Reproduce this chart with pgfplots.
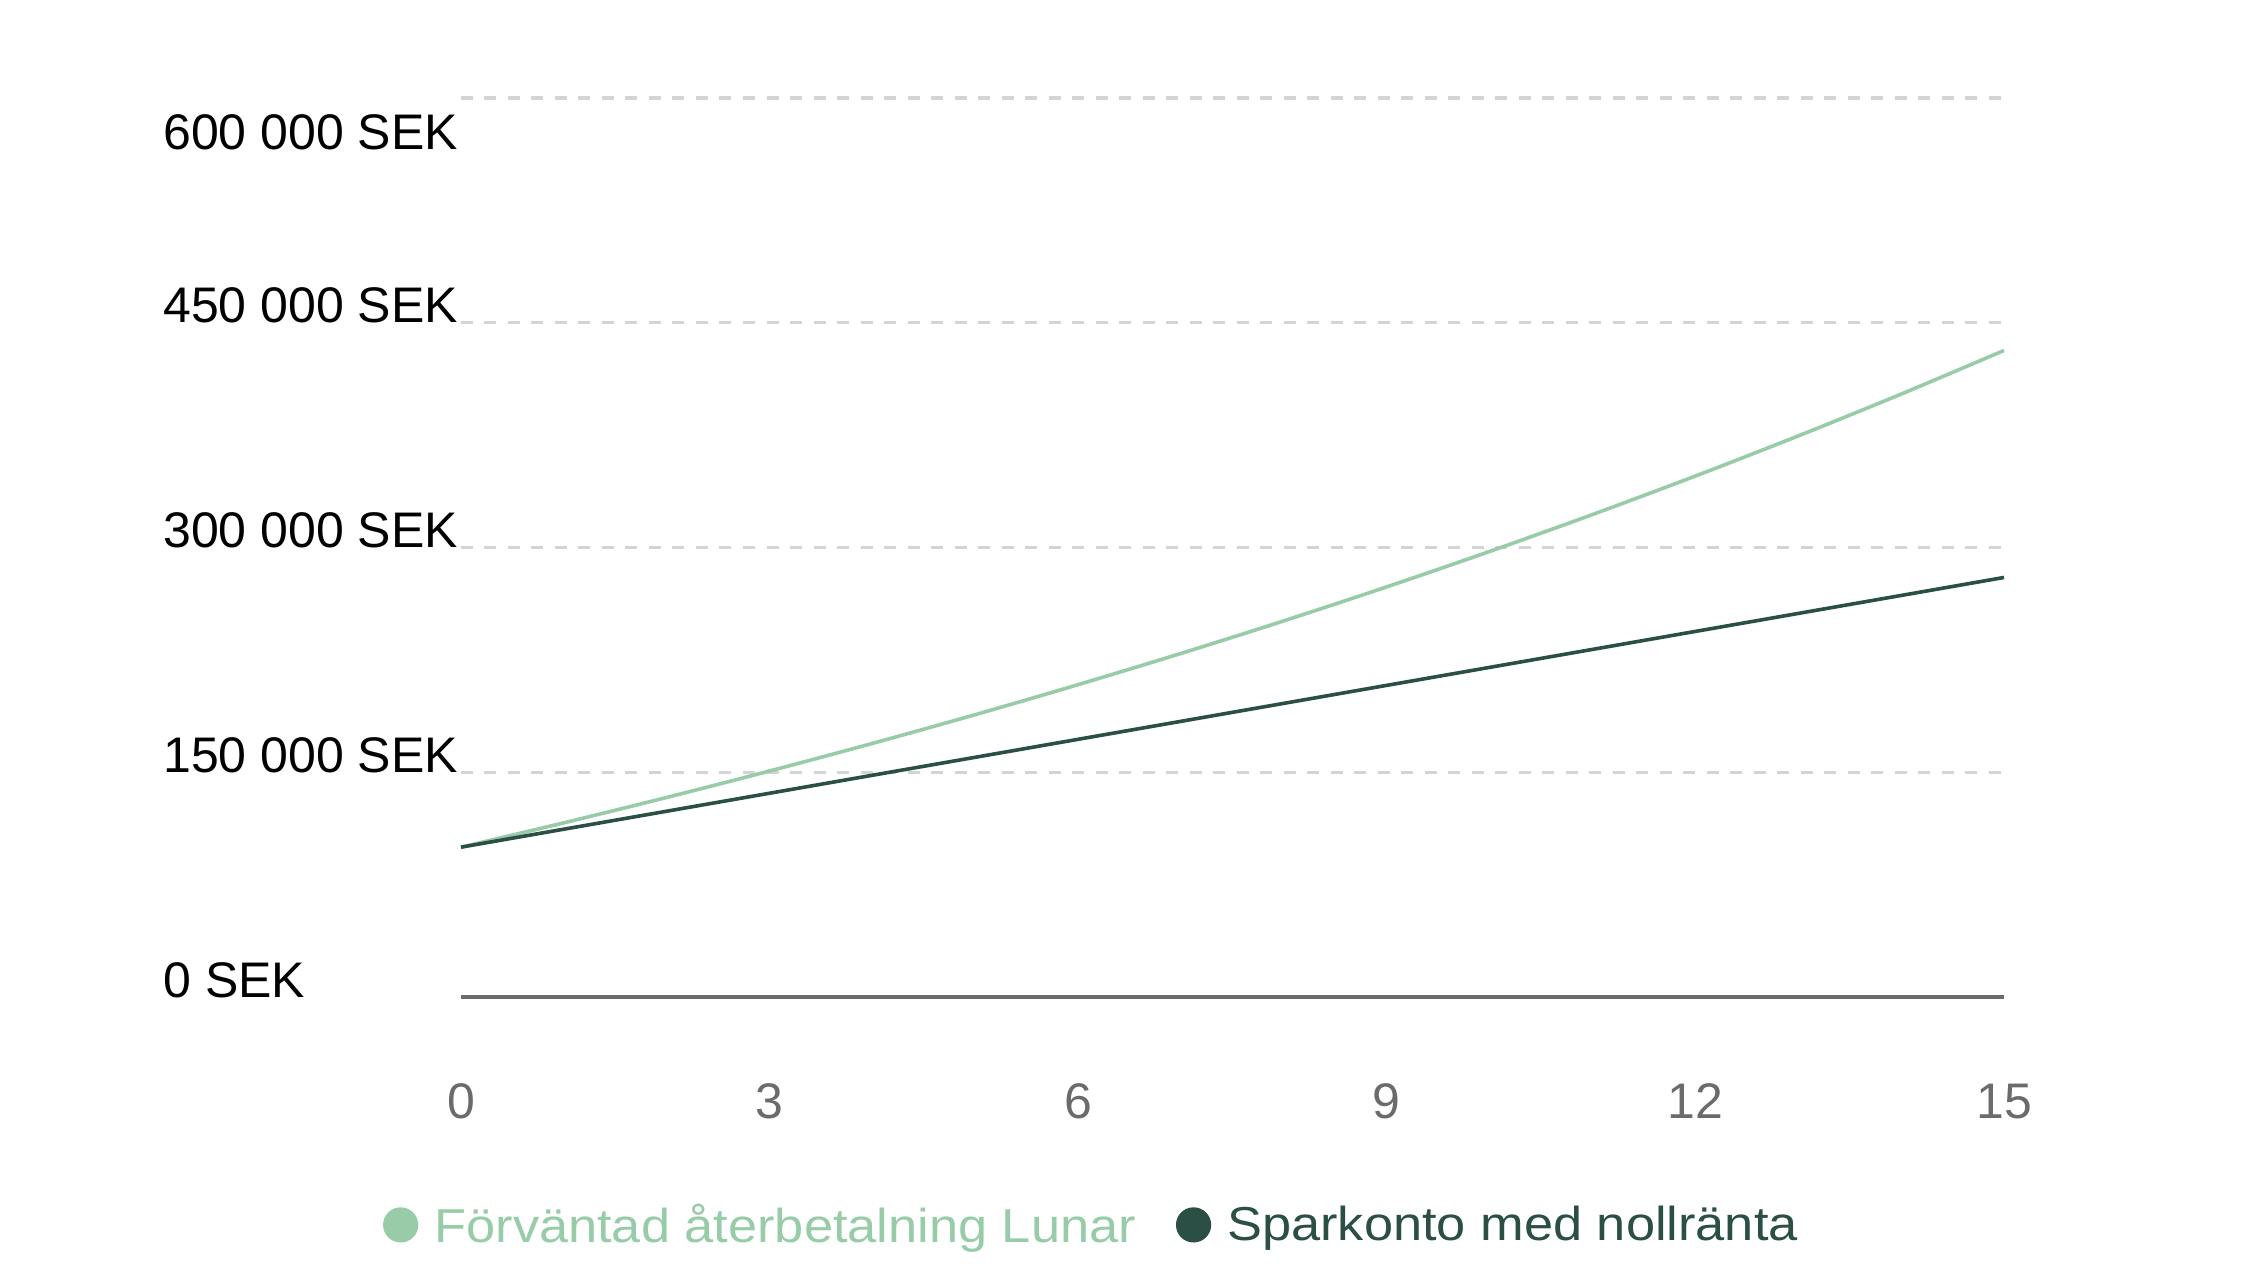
\documentclass[border=0pt]{standalone}
\usepackage{fontspec}
\setmainfont{Liberation Sans}
\newfontfamily\legfont{Liberation Sans}[FakeStretch=1.1]
\usepackage{pgfplots}
\pgfplotsset{compat=1.18}
\usepackage{pgfplotstable}
\definecolor{lgreen}{HTML}{98CCA8}
\definecolor{dgreen}{HTML}{2B4F44}
\definecolor{gridgray}{HTML}{D4D4D4}
\definecolor{axgray}{HTML}{6B6B6B}

\pgfplotstableread{
year lunar spar
0 100000 100000
1 116250 112000
2 133191 124000
3 150853 136000
4 169264 148000
5 188457 160000
6 208495 172000
7 229328 184000
8 251075 196000
9 273745 208000
10 297379 220000
11 322017 232000
12 347704 244000
13 374481 256000
14 402395 268000
15 431496 280000
}\data

\begin{document}
\begin{tikzpicture}
\begin{axis}[
  width=771.5pt, height=449.5pt, scale only axis,
  xmin=0, xmax=15, ymin=0, ymax=600000,
  scaled y ticks=false,
  clip=false,
  axis line style={draw=none},
  major tick length=0pt,
  tick style={draw=none},
  xtick={0,3,6,9,12,15}, xticklabels={0,3,6,9,12,15},
  ytick={0,150000,300000,450000},
  yticklabels={0 SEK,150 000 SEK,300 000 SEK,450 000 SEK},
  extra y ticks={600000}, extra y tick labels={600 000 SEK},
  extra y tick style={grid=major, yticklabel style={yshift=-25.5pt}},
  ymajorgrids,
  major grid style={draw=gridgray, line width=1.6pt, dash pattern=on 6pt off 5.75pt},
  yticklabel style={anchor=base west, xshift=-149pt, inner sep=0pt, text=black, font=\fontsize{25}{30}\selectfont},
  xticklabel style={anchor=base, yshift=-60.5pt, inner sep=0pt, text=axgray, font=\fontsize{25}{30}\selectfont},
  legend columns=2,
  legend style={draw=none, fill=none, at={(-0.0505,-0.2535)}, anchor=west,
    inner sep=0pt, outer sep=0pt, column sep=0pt,
    nodes={inner sep=0pt},
    /tikz/column 2/.style={column sep=20pt},
    font=\legfont\fontsize{23.8}{28}\selectfont},
  legend cell align=left,
  legend image code/.code={\fill[#1] (0pt,0pt) circle (7.9pt); \path (-7.9pt,0pt) (16pt,0pt);},
]
\addplot[axgray, line width=1.6pt, forget plot] coordinates {(0,0) (15,0)};
\addplot[lgreen, line width=1.8pt, smooth] table[x=year,y=lunar]{\data};
\addlegendentry{\textcolor{lgreen}{Förväntad återbetalning Lunar}}
\addplot[dgreen, line width=1.8pt] table[x=year,y=spar]{\data};
\addlegendentry{\textcolor{dgreen}{Sparkonto med nollränta}}
\end{axis}
\pgfresetboundingbox
\path[use as bounding box] (-230.5pt,-145pt) rectangle (891pt,498.5pt);
\end{tikzpicture}
\end{document}
